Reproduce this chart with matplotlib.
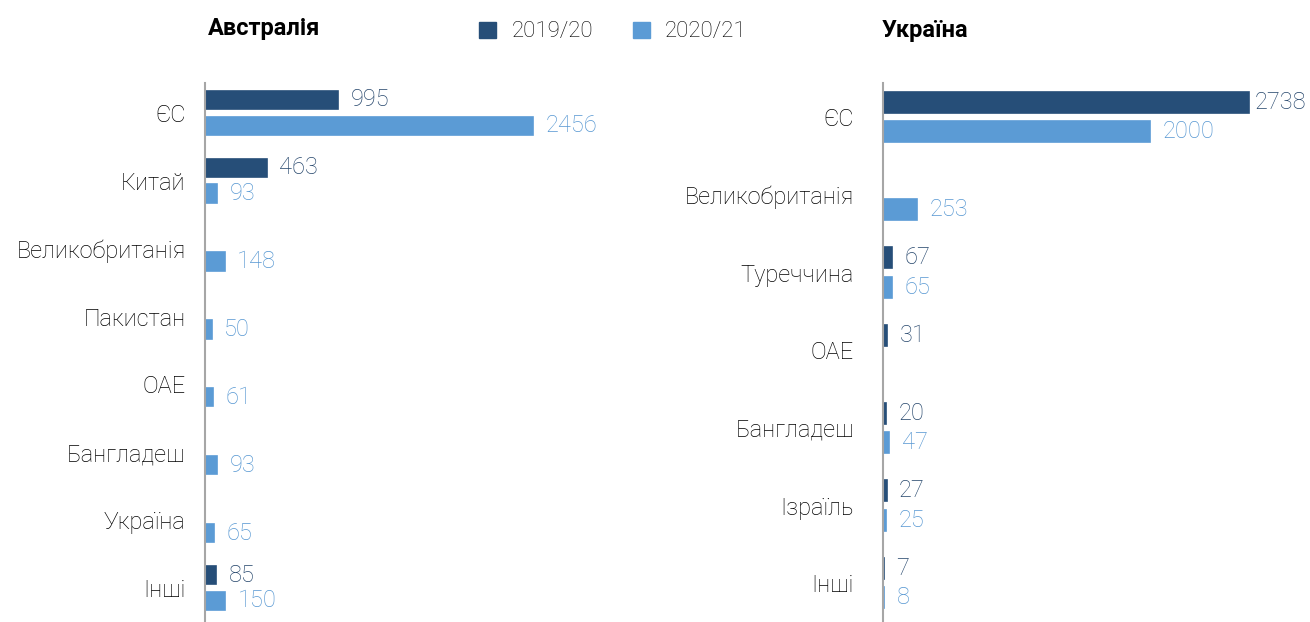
import numpy as np
import matplotlib.pyplot as plt
from matplotlib.patches import Patch

# Австралія
aus_categories = ["ЄС", "Китай", "Великобританія", "Пакистан", "ОАЕ", "Бангладеш", "Україна", "Інші"]
aus_2019 = [995, 463, None, None, None, None, None, 85]
aus_2020 = [2456, 93, 148, 50, 61, 93, 65, 150]

# Україна
ukr_categories = ["ЄС", "Великобританія", "Туреччина", "ОАЕ", "Бангладеш", "Ізраїль", "Інші"]
ukr_2019 = [2738, None, 67, 31, 20, 27, 7]
ukr_2020 = [2000, 253, 65, None, 47, 25, 8]

series_labels = ["2019/20", "2020/21"]

DARK = "#264e78"
LIGHT = "#5b9bd5"
DARK_TXT = "#24456b"
LIGHT_TXT = "#5697d2"

W, H = 1310, 622
plt.rcParams["font.family"] = ["Roboto", "DejaVu Sans"]

fig = plt.figure(figsize=(W / 100, H / 100), dpi=100)


def add_labels(ax, y, vals, color, xmax):
    for yy, v in zip(y, vals):
        if v is None:
            continue
        # labels near the right edge are pulled closer to the bar
        off = 4 if v > 0.85 * xmax else 9
        ax.annotate(str(v), (v, yy), xytext=(off, 0), textcoords="offset points",
                    va="center", ha="left", fontsize=17, color=color, fontweight="light")


def panel(rect, cats, v19, v20, xmax, pad):
    ax = fig.add_axes(rect)
    y = np.arange(len(cats))
    a = np.array([np.nan if v is None else v for v in v19], dtype=float)
    b = np.array([np.nan if v is None else v for v in v20], dtype=float)
    ax.barh(y - 0.19, a, height=0.27, color=DARK, edgecolor=DARK, linewidth=1.2)
    ax.barh(y + 0.19, b, height=0.27, color=LIGHT, edgecolor=LIGHT, linewidth=1.2)
    add_labels(ax, y - 0.19, v19, DARK_TXT, xmax)
    add_labels(ax, y + 0.19, v20, LIGHT_TXT, xmax)
    ax.set_xlim(0, xmax)
    ax.set_ylim(len(cats) - 0.5, -0.44)
    ax.set_yticks(y)
    ax.set_yticklabels(cats, fontsize=17, color="#000000", fontweight="light")
    ax.tick_params(axis="y", length=0, pad=pad)
    ax.set_xticks([])
    for s in ["top", "right", "bottom"]:
        ax.spines[s].set_visible(False)
    ax.spines["left"].set_color("#a6a6a6")
    ax.spines["left"].set_linewidth(1.5)
    ax.patch.set_alpha(0)
    return ax


panel([205 / W, 0, 415 / W, 539 / H], aus_categories, aus_2019, aus_2020, 3106, 14)
panel([883 / W, 0, 417 / W, 539 / H], ukr_categories, ukr_2019, ukr_2020, 3121, 21)

fig.text(208 / W, 1 - 28 / H, "Австралія", fontsize=17, fontweight="bold", va="center", ha="left")
fig.text(882 / W, 1 - 30 / H, "Україна", fontsize=17, fontweight="bold", va="center", ha="left")

handles = [Patch(color=DARK), Patch(color=LIGHT)]
leg = fig.legend(handles, series_labels, loc="center", bbox_to_anchor=(613 / W, 1 - 32 / H),
                 ncol=2, frameon=False, fontsize=16, handlelength=0.75, handleheight=0.75,
                 handletextpad=0.7, columnspacing=1.8)
for t in leg.get_texts():
    t.set_fontweight("light")
    t.set_color("#000000")

fig.savefig("out.png", dpi=100)
